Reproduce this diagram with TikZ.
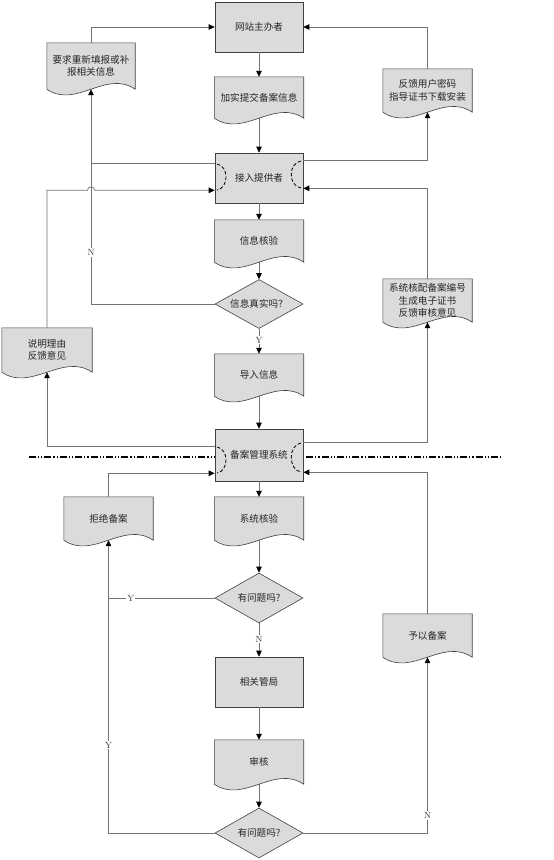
\documentclass[tikz,border=0pt]{standalone}
\usepackage{fontspec}
\newfontfamily\cjk{Noto Sans CJK SC}
\usetikzlibrary{arrows.meta,calc,shapes.geometric,backgrounds}
\newcommand\docshape[1]{\path[docfill] (#1.north west) -- (#1.north east) -- (#1.south east) .. controls ($(#1.south east)+(-29.5,-20)$) and ($(#1.south west)+(29.5,20)$) .. (#1.south west) -- cycle;}
\begin{document}
\begin{tikzpicture}[x=1pt,y=-1pt,
  txt/.style={font=\cjk\fontsize{9.6}{12.5}\selectfont, text=black!85, align=center, inner sep=0pt},
  box/.style={txt, draw=black!75, fill=gray!28, line width=0.6pt, minimum width=88pt, minimum height=50pt},
  docbox/.style={txt, minimum width=89pt},
  docfill/.style={draw=black!75, fill=gray!28, line width=0.6pt},
  dia/.style={txt, diamond, aspect=1.76, draw=black!75, fill=gray!28, line width=0.6pt, minimum width=88pt, minimum height=50pt},
  line/.style={draw=black!55, line width=0.7pt},
  conn/.style={line, -{Triangle[length=6pt,width=5.5pt,black]}},
  lab/.style={font=\fontsize{9}{10}\selectfont, text=black!80, fill=white, inner sep=1pt},
  arcd/.style={draw=black, line width=0.8pt, dash pattern=on 3.5pt off 2pt}
]
\useasboundingbox (0,0) rectangle (554,860);
% main column
\node[box] (host) at (259,27) {网站主办者};
\node[docbox, minimum height=41pt] (submit) at (259,97.5) {加实提交备案信息};
\node[box] (jieru) at (259,178) {接入提供者};
\node[docbox, minimum height=42pt] (verify) at (259,241) {信息核验};
\node[dia, minimum height=49pt] (dia1) at (259,304) {信息真实吗？};
\node[docbox, minimum height=42pt] (import) at (259,375) {导入信息};
\node[box, minimum height=52pt] (sys) at (259,455) {备案管理系统};
\node[docbox, minimum height=43pt] (syscheck) at (259,518.5) {系统核验};
\node[dia] (dia2) at (259,598) {有问题吗?};
\node[box] (bureau) at (259,682) {相关管局};
\node[docbox, minimum height=44pt] (audit) at (259,762) {审核};
\node[dia] (dia3) at (259,833) {有问题吗?};
% side documents
\node[docbox, minimum width=88pt, minimum height=46pt] (req) at (91,66) {要求重新填报或补\\报相关信息};
\node[docbox, minimum height=43pt] (fb) at (427.5,90.5) {反馈用户密码\\指导证书下载安装};
\node[docbox, minimum width=90pt, minimum height=44pt] (reason) at (47,350) {说明理由\\反馈意见};
\node[docbox, minimum height=43pt] (cert) at (427.5,300.5) {系统核配备案编号\\生成电子证书\\反馈审核意见};
\node[docbox, minimum height=43pt] (reject) at (108.5,518.5) {拒绝备案};
\node[docbox, minimum height=43pt] (accept) at (427.5,635.5) {予以备案};

\begin{scope}[on background layer]
  \fill[white] (0,0) rectangle (554,860);
  \draw[line width=1.6pt, dash pattern=on 7pt off 2pt on 1.2pt off 2pt on 1.2pt off 2pt] (29,457) -- (502,457);
  \docshape{submit}\docshape{verify}\docshape{import}\docshape{syscheck}\docshape{audit}
  \docshape{req}\docshape{fb}\docshape{reason}\docshape{cert}\docshape{reject}\docshape{accept}
\end{scope}

% main flow
\draw[conn] (host) -- (submit);
\draw[conn] (submit.south) -- (jieru);
\draw[conn] (jieru) -- (verify);
\draw[conn] (verify.south) -- (dia1);
\draw[conn] (dia1) -- node[lab, pos=0.45] {Y} (import);
\draw[conn] (import.south) -- (sys);
\draw[conn] (sys) -- (syscheck);
\draw[conn] (syscheck.south) -- (dia2);
\draw[conn] (dia2) -- node[lab, pos=0.47] {N} (bureau);
\draw[conn] (bureau) -- (audit);
\draw[conn] (audit.south) -- (dia3);

% upper feedback loops
\draw[conn] (req.north) |- (host.west);
\draw[conn] (fb.north) |- (host.east);
\draw[conn] (dia1.west) -| node[lab, pos=0.62] {N} (req.south);
\draw[line] ([yshift=-11pt]jieru.north west) -- ([yshift=-11pt]jieru.north west -| req.south);
\coordinate (P) at ([yshift=13pt]jieru.south west);
\coordinate (X) at (req.south |- P);
\draw[conn] (reason.north) |- ([xshift=-3.5pt]X) arc[start angle=180, end angle=360, radius=3.5] -- (P);
\draw[conn] ([yshift=-8pt]jieru.north east) -| (fb.south);
\draw[conn] (cert.north) |- ([yshift=15pt]jieru.south east);
\draw[conn] ([yshift=-18pt]sys.north west) -| (reason.south);
\draw[conn] ([yshift=-14pt]sys.north east) -| (cert.south);

% lower loops
\draw[conn] (reject.north) |- ([yshift=8pt]sys.south west);
\draw[conn] (accept.north) |- ([yshift=9pt]sys.south east);
\draw[line] (dia2.west) -- node[lab, pos=0.79] {Y} (dia2.west -| reject.south);
\draw[conn] (dia3.west) -| node[lab, pos=0.65] {Y} (reject.south);
\draw[conn] (dia3.east) -| node[lab, pos=0.55] {N} (accept.south);

% dashed connection marks
\draw[arcd] (217,164) .. controls (229,166) and (229,188) .. (217,190);
\draw[arcd] (301,161) .. controls (288,163) and (288,186) .. (301,188);
\draw[arcd] (217,447) .. controls (229,449) and (229,471) .. (217,473);
\draw[arcd] (301,443) .. controls (288,445) and (288,470) .. (301,472);
\end{tikzpicture}
\end{document}
